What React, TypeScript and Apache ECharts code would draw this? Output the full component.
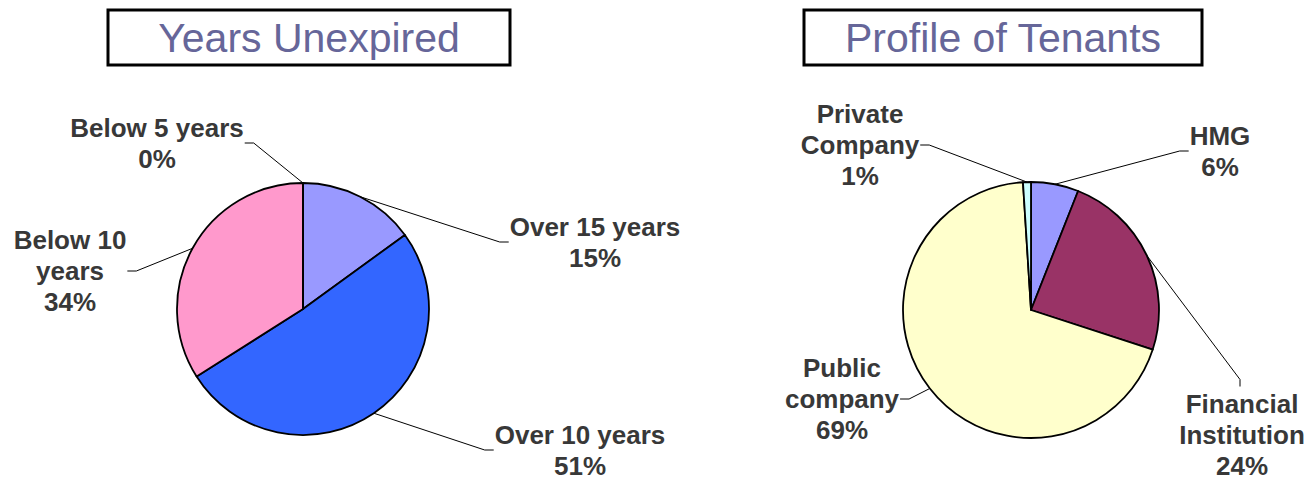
import React, { useEffect, useRef } from "react";
import * as echarts from "echarts";

const leftTitle = "Years Unexpired";
const rightTitle = "Profile of Tenants";

const leftNames = ["Over 15 years", "Over 10 years", "Below 10\nyears", "Below 5 years"];
const leftValues = [15, 51, 34, 0];
const leftColors = ["#9999ff", "#3366ff", "#ff99cc", "#ffffff"];

const rightNames = ["HMG", "Financial\nInstitution", "Public\ncompany", "Private\nCompany"];
const rightValues = [6, 24, 69, 1];
const rightColors = ["#9999ff", "#993366", "#ffffcc", "#ccffff"];

// label layout: centre of each label block and which side the leader line attaches to
const leftLabelPos = [
  { cx: 595, cy: 242, side: "left" },
  { cx: 580, cy: 450, side: "left" },
  { cx: 70, cy: 271, side: "right" },
  { cx: 157, cy: 143, side: "right" },
];
const rightLabelPos = [
  { cx: 1220, cy: 151, side: "left" },
  { cx: 1242, cy: 435, side: "top" },
  { cx: 842, cy: 399, side: "right" },
  { cx: 860, cy: 145, side: "right" },
];

const FONT = '"Liberation Sans", Arial, Helvetica, sans-serif';

export default function App() {
  const ref = useRef<HTMLDivElement>(null);
  useEffect(() => {
    if (!ref.current) return;
    const chart = echarts.init(ref.current, null, { renderer: "svg" });
    const layouts = [leftLabelPos, rightLabelPos];
    const labelLayout = (params: any) => {
      const L = layouts[params.seriesIndex][params.dataIndex];
      const w = params.labelRect.width;
      const h = params.labelRect.height;
      const start = params.labelLinePoints ? params.labelLinePoints[0] : [L.cx, L.cy];
      let bend: number[];
      let end: number[];
      if (L.side === "left") {
        end = [L.cx - w / 2 - 1, L.cy];
        bend = [end[0] - 9, L.cy];
      } else if (L.side === "right") {
        end = [L.cx + w / 2 + 1, L.cy];
        bend = [end[0] + 9, L.cy];
      } else {
        end = [L.cx - 2, L.cy - h / 2 - 2];
        bend = [end[0], end[1] - 7];
      }
      return {
        x: L.cx,
        y: L.cy,
        align: "center",
        verticalAlign: "middle",
        labelLinePoints: [start, bend, end],
      };
    };
    const makeSeries = (names: string[], values: number[], colors: string[], center: number[], radius: number) => ({
      type: "pie",
      center,
      radius,
      startAngle: 90,
      clockwise: true,
      avoidLabelOverlap: false,
      percentPrecision: 0,
      silent: true,
      data: names.map((n, i) => ({ name: n, value: values[i], itemStyle: { color: colors[i] } })),
      itemStyle: { borderColor: "#000", borderWidth: 1.8 },
      label: {
        show: true,
        position: "outside",
        formatter: "{b}\n{d}%",
        fontFamily: FONT,
        fontWeight: "bold",
        fontSize: 26,
        lineHeight: 31,
        color: "#383838",
        align: "center",
      },
      labelLine: { show: true, length: 20, length2: 10, lineStyle: { color: "#000", width: 1 } },
      labelLayout,
    });
    const titleBox = (x: number, w: number, text: string) => ({
      type: "group",
      children: [
        {
          type: "rect",
          shape: { x, y: 10, width: w, height: 55 },
          style: { fill: "#fff", stroke: "#000", lineWidth: 3 },
        },
        {
          type: "text",
          x: x + w / 2,
          y: 38,
          style: {
            text,
            fill: "#666699",
            font: `41px ${FONT}`,
            textAlign: "center",
            textVerticalAlign: "middle",
          },
        },
      ],
    });
    chart.setOption({
      animation: false,
      backgroundColor: "#fff",
      graphic: [titleBox(108, 402, leftTitle), titleBox(804, 398, rightTitle)],
      series: [
        makeSeries(leftNames, leftValues, leftColors, [303, 309], 126),
        makeSeries(rightNames, rightValues, rightColors, [1031, 310], 128),
      ],
    });
    return () => chart.dispose();
  }, []);
  return (
    <div
      ref={ref}
      style={{ position: "fixed", left: 0, top: 0, width: 1304, height: 481, background: "#fff" }}
    />
  );
}
